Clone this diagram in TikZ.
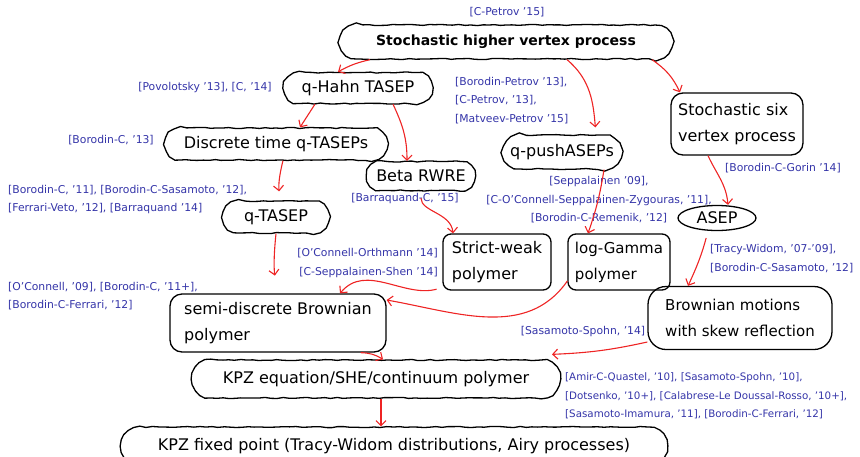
\documentclass[tikz,border=0pt]{standalone}
\usepackage{fontspec}
\setmainfont{DejaVu Sans}
\usetikzlibrary{arrows.meta,shapes.misc,shapes.geometric,decorations.pathmorphing}
\definecolor{citeblue}{RGB}{52,52,168}
\definecolor{linkred}{RGB}{238,36,36}
\tikzstyle{sketch}=[draw, line width=1.3pt, decorate,
                    decoration={random steps, segment length=6pt, amplitude=0.6pt},
                    font=\fontsize{16}{26}\selectfont, inner sep=0pt]
\tikzstyle{pill}=[sketch, rounded rectangle]
\tikzstyle{blob}=[draw, line width=1.3pt, rectangle, rounded corners=12pt,
                  align=left, font=\fontsize{16}{26}\selectfont, inner sep=0pt]
\tikzstyle{cite}=[text=citeblue, font=\fontsize{10.8}{18.5}\selectfont,
                  inner sep=0pt]
\tikzstyle{link}=[draw=linkred, line width=1.1pt,
                  -{Straight Barb[length=5pt,width=10pt]}]

\begin{document}
\begin{tikzpicture}[x=1pt,y=1pt]
   \useasboundingbox (0,0) rectangle (860,-456);
   \pgfmathsetseed{7}
   % models
   \node (shv) at (506,-42) [pill, minimum width=332pt, minimum height=34pt,
        font=\fontsize{14}{18}\selectfont\bfseries] {Stochastic higher vertex process};
   \node (qhahn) at (358,-88) [pill, minimum width=148pt, minimum height=31pt] {q-Hahn TASEP};
   \node (dtq) at (276,-144) [pill, minimum width=222pt, minimum height=32pt] {Discrete time q-TASEPs};
   \node (beta) at (421,-176) [pill, minimum width=108pt, minimum height=29pt] {Beta RWRE};
   \node (qtasep) at (276,-217) [pill, minimum width=106pt, minimum height=32pt] {q-TASEP};
   \node (qpush) at (562,-152) [pill, minimum width=118pt, minimum height=34pt] {q-pushASEPs};
   \node (six) at (737,-124) [blob, minimum width=132pt, minimum height=62pt] {Stochastic six\\vertex process};
   \node (asep) at (717,-218) [draw, line width=1.3pt, ellipse, inner sep=0pt,
        minimum width=78pt, minimum height=25pt, font=\fontsize{16}{20}\selectfont] {ASEP};
   \node (sw) at (497,-262) [blob, rounded corners=8pt, minimum width=108pt, minimum height=56pt] {Strict-weak\\polymer};
   \node (lg) at (619,-262) [blob, rounded corners=8pt, minimum width=102pt, minimum height=56pt,
        font=\fontsize{15}{26}\selectfont] {log-Gamma\\polymer};
   \node (sdb) at (278,-323) [blob, minimum width=216pt, minimum height=58pt] {semi-discrete Brownian\\polymer};
   \node (bm) at (740,-318) [blob, rounded corners=18pt, minimum width=184pt, minimum height=63pt,
        font=\fontsize{15}{26}\selectfont] {Brownian motions\\with skew reflection};
   \node (kpz) at (376,-379) [pill, minimum width=368pt, minimum height=38pt] {KPZ equation/SHE/continuum polymer};
   \node (kfp) at (394,-446) [pill, minimum width=546pt, minimum height=38pt] {KPZ fixed point (Tracy-Widom distributions, Airy processes)};

   % references
   \node (cpet) at (507,-12) [cite] {[C-Petrov '15]};
   \node (povo) at (205,-88) [cite] {[Povolotsky '13], [C, '14]};
   \node (borc) at (111,-140) [cite] {[Borodin-C, '13]};
   \node (bpet) at (455,-100.5) [cite, anchor=west, align=left] {[Borodin-Petrov '13],\\{}[C-Petrov, '13],\\{}[Matveev-Petrov '15]};
   \node (qtcite) at (8,-199.5) [cite, anchor=west, align=left] {[Borodin-C, '11], [Borodin-C-Sasamoto, '12],\\{}[Ferrari-Veto, '12], [Barraquand '14]};
   \node (bcite) at (405,-199) [cite] {[Barraquand-C, '15]};
   \node (lgcite) at (599,-200) [cite, align=center] {[Seppalainen '09],\\{}[C-O'Connell-Seppalainen-Zygouras, '11],\\{}[Borodin-C-Remenik, '12]};
   \node (gorin) at (725,-168) [cite, anchor=west] {[Borodin-C-Gorin '14]};
   \node (swcite) at (438,-263) [cite, anchor=east, align=right] {[O'Connell-Orthmann '14]\\{}[C-Seppalainen-Shen '14]};
   \node (sdbcite) at (8,-296) [cite, anchor=west, align=left] {[O'Connell, '09], [Borodin-C, '11+],\\{}[Borodin-C-Ferrari, '12]};
   \node (twcite) at (710,-258.5) [cite, anchor=west, align=left] {[Tracy-Widom, '07-'09],\\{}[Borodin-C-Sasamoto, '12]};
   \node (sscite) at (583,-332) [cite] {[Sasamoto-Spohn, '14]};
   \node (kpzcite) at (565,-396) [cite, anchor=west, align=left, font=\fontsize{10.3}{18.5}\selectfont]
        {[Amir-C-Quastel, '10], [Sasamoto-Spohn, '10],\\{}[Dotsenko, '10+], [Calabrese-Le Doussal-Rosso, '10+],\\{}[Sasamoto-Imamura, '11], [Borodin-C-Ferrari, '12]};

   % degenerations
   \draw[link] ([xshift=-136pt]shv.south) to[bend right=8] ([xshift=-20pt]qhahn.north);
   \draw[link, shorten >=7pt] ([xshift=61pt]shv.south) to[out=-40,in=95] ([xshift=34pt]qpush.north);
   \draw[link] ([xshift=146pt]shv.south) to[bend left=15] ([xshift=-57pt]six.north);
   \draw[link] ([xshift=-43pt]qhahn.south) -- ([xshift=24pt]dtq.north);
   \draw[link] ([xshift=35pt]qhahn.south) to[out=-65,in=90] ([xshift=-14pt]beta.north);
   \draw[link, shorten >=9pt] ([xshift=7pt]dtq.south) to[bend right=10] ([xshift=4pt]qtasep.north);
   \draw[link, shorten >=18pt] (qtasep.south) to[bend right=8] (sdb.north);
   \draw[link, shorten <=7pt] (beta.south) to[out=-90,in=95] ([xshift=-44pt]sw.north);
   \draw[link] ([xshift=42pt]qpush.south) to[bend left=5] ([xshift=-31pt]lg.north);
   \draw[link] ([xshift=-29pt]six.south) to[out=-65,in=95] ([xshift=11pt]asep.north);
   \draw[link, shorten <=7pt] ([xshift=-9pt]asep.south) to[bend left=5] ([xshift=-52pt]bm.north);
   \draw[link, shorten <=6pt] ([yshift=3pt]sw.south west) to[out=195,in=50] ([xshift=62pt]sdb.north);
   \draw[link] ([yshift=-19pt]lg.west) to[out=235,in=-10] ([yshift=23pt]sdb.east);
   \draw[link] ([xshift=-26pt]sdb.south east) to[bend left=15] ([xshift=7pt]kpz.north);
   \draw[link] ([yshift=-24pt]bm.west) to[bend left=5] ([xshift=176pt,yshift=5pt]kpz.north);
   \draw[link] ([xshift=5pt]kpz.south) -- ([xshift=-13pt]kfp.north);
\end{tikzpicture}
\end{document}
